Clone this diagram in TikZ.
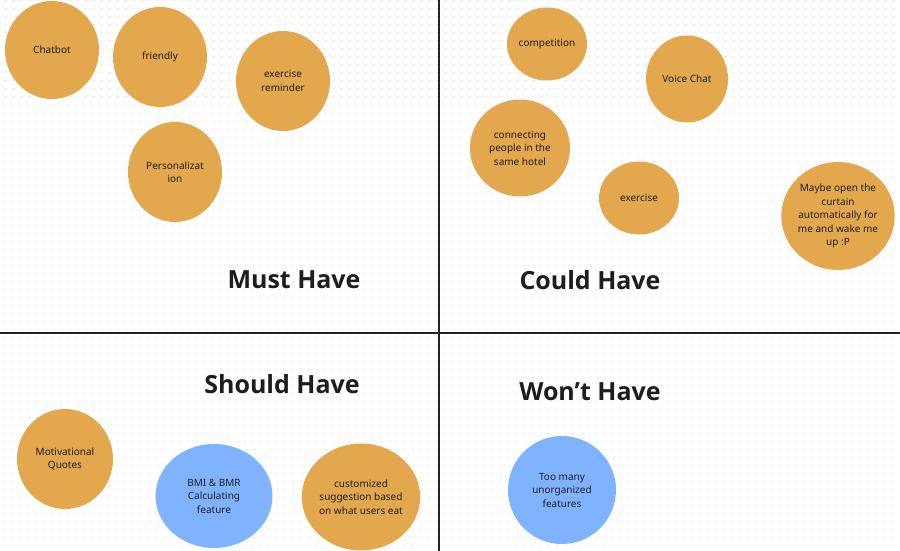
\documentclass[tikz,border=0pt]{standalone}
\usepackage{fontspec}
\setmainfont{Noto Sans}
\newfontfamily\headfont{Open Sans}
\usetikzlibrary{shapes.geometric}
\definecolor{orangeC}{HTML}{E3A84E}
\definecolor{blueC}{HTML}{80B3FF}
\definecolor{inkC}{HTML}{1E1E1E}
\definecolor{dotC}{HTML}{DADADA}
\definecolor{lineC}{HTML}{222222}
\tikzset{
  blob/.style={ellipse, inner sep=0pt, align=center, text=inkC,
    font=\fontsize{10}{13.5}\selectfont},
  ob/.style={blob, fill=orangeC},
  bb/.style={blob, fill=blueC},
  head/.style={font=\headfont\bfseries\fontsize{25}{29}\selectfont, text=inkC!95!black},
  divider/.style={draw=lineC, line width=1.6pt},
  dotrow/.style={draw=dotC, line width=1pt, dash pattern=on 1pt off 7pt}
}
\begin{document}
\begin{tikzpicture}[x=1pt,y=-1pt]
\useasboundingbox (0,0) rectangle (900,551);
\fill[white] (0,0) rectangle (900,551);
% dot grid
\foreach \j in {0,...,69} {
  \draw[dotrow] (4.5,1+8*\j) -- (900,1+8*\j);
}
% dividers
\coordinate (vt) at (439,0);
\coordinate (vb) at (439,551);
\coordinate (hl) at (0,333);
\coordinate (hr) at (900,333);
\draw[divider] (vt) -- (vb);
\draw[divider] (hl) -- (hr);
% Must have
\node[ob, minimum width=94, minimum height=98] (chat) at (52,50) {Chatbot};
\node[ob, minimum width=94, minimum height=100] (friend) at (160,57) {friendly};
\node[ob, minimum width=94, minimum height=100] (exrem) at (283,81) {exercise\\reminder};
\node[ob, minimum width=94, minimum height=100] (pers) at (175,172) {Personalizat\\ion};
\node[head] (must) at (294,280) {Must Have};
% Could have
\node[ob, minimum width=80, minimum height=73] (comp) at (547,44) {competition};
\node[ob, minimum width=82, minimum height=87] (voice) at (687,79) {Voice Chat};
\node[ob, minimum width=100, minimum height=97] (conn) at (520,148) {connecting\\people in the\\same hotel};
\node[ob, minimum width=80, minimum height=73] (exer) at (639,198) {exercise};
\node[ob, minimum width=112, minimum height=108] (maybe) at (838,216) {Maybe open the\\curtain\\automatically for\\me and wake me\\up :P};
\node[head] (could) at (590,280) {Could Have};
% Should have
\node[head] (should) at (282,384) {Should Have};
\node[ob, minimum width=96, minimum height=100] (motiv) at (65,459) {Motivational\\Quotes};
\node[bb, minimum width=117, minimum height=104] (bmi) at (214,496) {BMI \& BMR\\Calculating\\feature};
\node[ob, minimum width=116, minimum height=107] (cust) at (361,497) {customized\\suggestion based\\on what users eat};
% Won't have
\node[head] (wont) at (590,392) {Won’t Have};
\node[bb, minimum width=108, minimum height=108] (too) at (562,490) {Too many\\unorganized\\features};
\end{tikzpicture}
\end{document}
